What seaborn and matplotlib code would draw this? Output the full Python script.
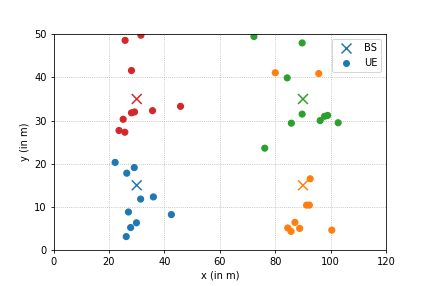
import numpy as np
import pandas as pd
import seaborn as sns
import matplotlib
matplotlib.use("Agg")
import matplotlib.pyplot as plt
from matplotlib.lines import Line2D

# base station positions, one per cell
bs_x = [30, 90, 90, 30]
bs_y = [15, 15, 35, 35]
bs_cell = [0, 1, 2, 3]

# user equipment positions, grouped by serving cell
ue_x_0 = [22.2, 29.1, 26.4, 36.0, 31.4, 27.0, 42.5, 29.9, 27.8, 26.2]
ue_y_0 = [20.3, 19.1, 17.8, 12.3, 11.8, 8.8, 8.2, 6.3, 5.2, 3.1]
ue_x_1 = [80.0, 95.7, 92.6, 91.3, 92.3, 87.1, 84.5, 85.7, 88.8, 100.4]
ue_y_1 = [41.1, 40.9, 16.5, 10.4, 10.4, 6.4, 5.1, 4.3, 5.0, 4.6]
ue_x_2 = [72.3, 89.7, 84.3, 89.7, 85.8, 96.2, 97.8, 98.9, 102.7, 76.2]
ue_y_2 = [49.5, 48.0, 39.9, 31.5, 29.4, 30.0, 31.0, 31.2, 29.5, 23.6]
ue_x_3 = [25.8, 31.5, 28.1, 25.1, 28.1, 29.2, 35.7, 45.8, 23.6, 25.7]
ue_y_3 = [48.6, 49.8, 41.6, 30.3, 31.8, 32.0, 32.3, 33.3, 27.7, 27.3]

ue = pd.concat([
    pd.DataFrame({"x": ue_x_0, "y": ue_y_0, "cell": 0}),
    pd.DataFrame({"x": ue_x_1, "y": ue_y_1, "cell": 1}),
    pd.DataFrame({"x": ue_x_2, "y": ue_y_2, "cell": 2}),
    pd.DataFrame({"x": ue_x_3, "y": ue_y_3, "cell": 3}),
], ignore_index=True)
bs = pd.DataFrame({"x": bs_x, "y": bs_y, "cell": bs_cell})

palette = sns.color_palette("tab10", 4)

fig, ax = plt.subplots(figsize=(6, 4), dpi=71.5)
fig.subplots_adjust(left=0.125, right=0.9, top=0.88, bottom=0.126)

sns.scatterplot(data=bs, x="x", y="y", hue="cell", palette=palette,
                marker="x", s=100, linewidth=1.5, legend=False, ax=ax)
sns.scatterplot(data=ue, x="x", y="y", hue="cell", palette=palette,
                marker="o", s=36, edgecolor="face", linewidth=1.2,
                legend=False, ax=ax)

ax.set_xlim(0, 120)
ax.set_ylim(0, 50)
ax.set_xticks(np.arange(0, 121, 20))
ax.set_yticks(np.arange(0, 51, 10))
ax.set_xlabel("x (in m)")
ax.set_ylabel("y (in m)")
ax.grid(True, linestyle=":", color="#b0b0b0", linewidth=0.8)
ax.set_axisbelow(True)

handles = [
    Line2D([], [], marker="x", color=palette[0], linestyle="none",
           markersize=10, markeredgewidth=1.5, label="BS"),
    Line2D([], [], marker="o", color=palette[0], linestyle="none",
           markersize=6, label="UE"),
]
ax.legend(handles=handles, loc="upper right")

fig.savefig("out.png", dpi=71.5)
